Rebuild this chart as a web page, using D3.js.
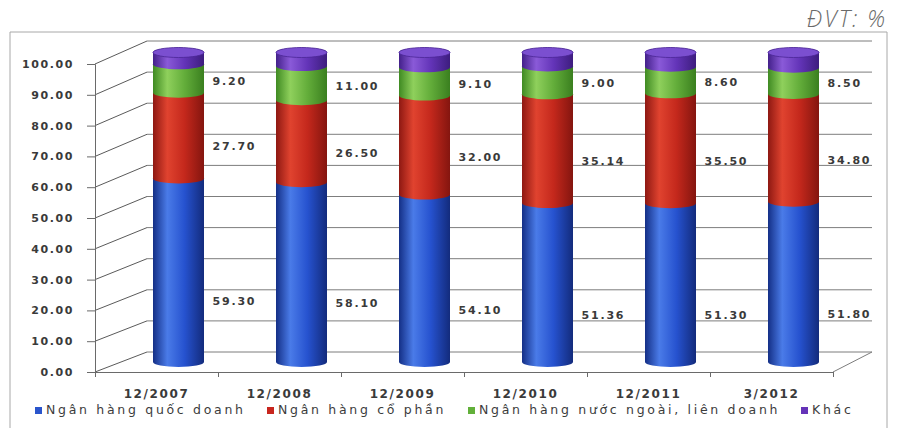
<!DOCTYPE html>
<html>
<head>
<meta charset="utf-8">
<script src="https://cdn.jsdelivr.net/npm/d3@7"></script>
<style>
  html, body { margin: 0; padding: 0; background: #ffffff; }
  svg { display: block; }
</style>
</head>
<body>
<svg id="chart" width="898" height="432"></svg>
<script>
// Cơ cấu thị phần tín dụng theo nhóm ngân hàng (%)
const categories = ["12/2007", "12/2008", "12/2009", "12/2010", "12/2011", "3/2012"];
const quocDoanh  = [59.30, 58.10, 54.10, 51.36, 51.30, 51.80];
const coPhan     = [27.70, 26.50, 32.00, 35.14, 35.50, 34.80];
const nuocNgoai  = [9.20, 11.00, 9.10, 9.00, 8.60, 8.50];
const khac       = [3.80, 4.40, 4.80, 4.50, 4.60, 4.90];
const seriesNames = ["Ngân hàng quốc doanh", "Ngân hàng cổ phần", "Ngân hàng nước ngoài, liên doanh", "Khác"];
const yTicks = [0, 10, 20, 30, 40, 50, 60, 70, 80, 90, 100];
const unitLabel = "ĐVT: %";

const seriesValues = [quocDoanh, coPhan, nuocNgoai, khac];
const labelledSeries = [true, true, true, false];

// colour ramps for the cylinder shading: [edge, highlight, mid, far edge]
const shades = [
  ["#142f86", "#4a7be8", "#2652cf", "#132b7c"],
  ["#8e1812", "#e0432f", "#c4281c", "#84150f"],
  ["#3f8a22", "#8fd05c", "#63ad3a", "#3a7f1f"],
  ["#43208a", "#8a5ad8", "#6334b8", "#3d1d7e"]
];
const topShade = "#7b4fd0";
const legendColors = ["#2a55cc", "#c8261e", "#62b03a", "#6533b8"];

const svg = d3.select("#chart");
const font = "'DejaVu Sans', Verdana, sans-serif";

// ---- 3D frame geometry ----
const frontLeft = 95, frontRight = 833;
const backLeft = 147, backRight = 872;
const yFront = d3.scaleLinear().domain([0, 100]).range([372, 64]);
const yBack  = d3.scaleLinear().domain([0, 100]).range([352, 41]);
const yMid   = d3.scaleLinear().domain([0, 100]).range([362, 52.5]);
const yLabel = d3.scaleLinear().domain([0, 100]).range([406, 51]);
const xFront = d3.scaleBand().domain(categories).range([frontLeft, frontRight]);
const depthShift = 22;
const radius = 25.5, ry = 5;

// outer border
svg.append("path")
  .attr("d", `M10,428 L10,32 L887,32 L887,428`)
  .attr("fill", "none").attr("stroke", "#a8a8a8").attr("stroke-width", 1);

svg.append("text")
  .attr("x", 887).attr("y", 27)
  .attr("text-anchor", "end")
  .attr("font-family", "'Open Sans', 'Liberation Sans', sans-serif")
  .attr("font-style", "italic").attr("font-weight", 300)
  .attr("font-size", 23).attr("fill", "#6a6a6a")
  .attr("letter-spacing", 2)
  .text(unitLabel);

// back wall gridlines and side wall diagonals
const grid = svg.append("g").attr("stroke", "#7d7d7d").attr("stroke-width", 1).attr("fill", "none");
grid.selectAll("line.back").data(yTicks).join("line").attr("class", "back")
  .attr("x1", backLeft).attr("x2", backRight)
  .attr("y1", d => yBack(d)).attr("y2", d => yBack(d));
grid.selectAll("line.side").data(yTicks).join("line").attr("class", "side")
  .attr("stroke", "#5a5a5a")
  .attr("x1", frontLeft).attr("x2", backLeft)
  .attr("y1", d => yFront(d)).attr("y2", d => yBack(d));
// floor right edge
grid.append("line")
  .attr("x1", frontRight).attr("y1", yFront(0))
  .attr("x2", backRight).attr("y2", yBack(0));

// gradients
const defs = svg.append("defs");
shades.forEach((s, i) => {
  const g = defs.append("linearGradient").attr("id", "cyl" + i)
    .attr("x1", "0%").attr("x2", "100%").attr("y1", "0%").attr("y2", "0%");
  g.append("stop").attr("offset", "0%").attr("stop-color", s[0]);
  g.append("stop").attr("offset", "28%").attr("stop-color", s[1]);
  g.append("stop").attr("offset", "62%").attr("stop-color", s[2]);
  g.append("stop").attr("offset", "100%").attr("stop-color", s[3]);
});

// stacked cylinders
const stacked = categories.map((c, ci) => {
  let base = 0;
  return seriesValues.map((vals, si) => {
    const seg = { cat: c, series: si, v: vals[ci], y0: base, y1: base + vals[ci] };
    base += vals[ci];
    return seg;
  });
});

const cyl = svg.append("g");
stacked.forEach(segs => {
  const cx = xFront(segs[0].cat) + xFront.bandwidth() / 2 + depthShift;
  const g = cyl.append("g");
  segs.forEach(s => {
    const yb = yMid(s.y0), yt = yMid(s.y1);
    const l = cx - radius, r = cx + radius;
    const d = `M${l},${yt} L${l},${yb} A${radius},${ry} 0 0,0 ${r},${yb} L${r},${yt} A${radius},${ry} 0 0,0 ${l},${yt} Z`;
    g.append("path").attr("d", d).attr("fill", `url(#cyl${s.series})`);
  });
  const top = segs[segs.length - 1];
  g.append("ellipse")
    .attr("cx", cx).attr("cy", yMid(top.y1))
    .attr("rx", radius).attr("ry", ry)
    .attr("fill", topShade).attr("stroke", "#4a2696").attr("stroke-width", 0.8);
});

// value labels
const lbl = svg.append("g")
  .attr("font-family", font).attr("font-weight", "bold")
  .attr("font-size", 11).attr("fill", "#3a3a3a")
  .attr("letter-spacing", 1.8);
stacked.forEach(segs => {
  const x = xFront(segs[0].cat) + xFront.bandwidth() / 2 + 56;
  segs.filter(s => labelledSeries[s.series]).forEach(s => {
    lbl.append("text")
      .attr("x", x).attr("y", yLabel((s.y0 + s.y1) / 2))
      .attr("dy", "0.35em")
      .text(d3.format(".2f")(s.v));
  });
});

// y axis
const yAxis = svg.append("g").attr("transform", `translate(${frontLeft},0)`)
  .call(d3.axisLeft(yFront).tickValues(yTicks).tickFormat(d3.format(".2f")).tickSize(8).tickPadding(13));
yAxis.selectAll("text")
  .attr("font-family", font).attr("font-weight", "bold").attr("font-size", 11)
  .attr("fill", "#3a3a3a").attr("letter-spacing", 1.6);
yAxis.selectAll("line, path").attr("stroke", "#6a6a6a");

// x axis: edge ticks and centred labels
const edgeScale = d3.scaleLinear().domain([0, categories.length]).range([frontLeft, frontRight]);
const xTicks = svg.append("g").attr("transform", `translate(0,${yFront(0)})`)
  .call(d3.axisBottom(edgeScale).ticks(categories.length).tickSize(5).tickFormat(""));
xTicks.selectAll("line, path").attr("stroke", "#6a6a6a");

const xLabels = svg.append("g").attr("transform", `translate(0,${yFront(0)})`)
  .call(d3.axisBottom(xFront).tickSize(0).tickPadding(17));
xLabels.select(".domain").remove();
xLabels.selectAll("text")
  .attr("font-family", font).attr("font-weight", "bold").attr("font-size", 12)
  .attr("fill", "#3a3a3a").attr("letter-spacing", 1.6);

// legend
const legendX = [35, 267, 468, 801];
const legend = svg.append("g").attr("font-family", font).attr("font-size", 12.5).attr("fill", "#3c3c3c");
seriesNames.forEach((name, i) => {
  legend.append("rect")
    .attr("x", legendX[i]).attr("y", 407).attr("width", 7).attr("height", 7)
    .attr("fill", legendColors[i]);
  legend.append("text")
    .attr("x", legendX[i] + 11).attr("y", 414)
    .attr("letter-spacing", 2.7)
    .text(name);
});
</script>
</body>
</html>
